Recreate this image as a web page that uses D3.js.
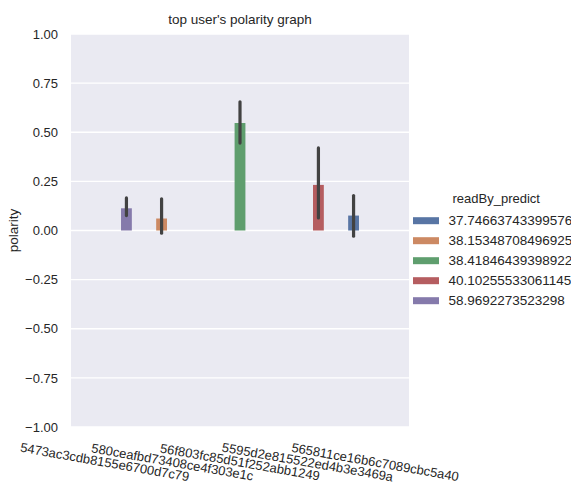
<!DOCTYPE html>
<html>
<head>
<meta charset="utf-8">
<script src="https://cdn.jsdelivr.net/npm/d3@7"></script>
<style>
  html, body { margin: 0; padding: 0; background: #fff; }
  svg { display: block; font-family: "Liberation Sans", Arial, sans-serif; }
</style>
</head>
<body>
<svg id="chart" width="571" height="498"></svg>
<script>
// Users (x categories) and readBy_predict groups (hue levels)
const users = [
  "5473ac3cdb8155e6700d7c79",
  "580ceafbd73408ce4f303e1c",
  "56f803fc85d51f252abb1249",
  "5595d2e815522ed4b3e3469a",
  "565811ce16b6c7089cbc5a40"
];
const hueLevels = [
  "37.74663743399576",
  "38.15348708496925",
  "38.41846439398922",
  "40.10255533061145",
  "58.9692273523298"
];
const hueColors = ["#5875a4", "#cc8963", "#5f9e6e", "#b55d60", "#857aab"];

// Mean polarity per bar with its confidence interval
const barUser  = ["5473ac3cdb8155e6700d7c79", "580ceafbd73408ce4f303e1c", "56f803fc85d51f252abb1249", "5595d2e815522ed4b3e3469a", "565811ce16b6c7089cbc5a40"];
const barHue   = ["58.9692273523298", "38.15348708496925", "38.41846439398922", "40.10255533061145", "37.74663743399576"];
const barMean  = [0.113, 0.061, 0.547, 0.232, 0.076];
const barCiLow = [0.076, -0.014, 0.445, 0.064, -0.029];
const barCiHigh= [0.166, 0.161, 0.655, 0.420, 0.178];

const yTicks = [-1.0, -0.75, -0.5, -0.25, 0.0, 0.25, 0.5, 0.75, 1.0];

const svg = d3.select("#chart");
const plot = { left: 71, right: 409, top: 34, bottom: 427 };

const x = d3.scaleBand().domain(users).range([plot.left, plot.right]).paddingInner(0).paddingOuter(0);
// hue slots occupy 80% of each category
const xHue = d3.scaleBand().domain(hueLevels)
  .range([x.bandwidth() * 0.1, x.bandwidth() * 0.9]);
const y = d3.scaleLinear().domain([-1, 1]).range([plot.bottom, plot.top]);

// background
svg.append("rect")
  .attr("x", plot.left).attr("y", plot.top)
  .attr("width", plot.right - plot.left).attr("height", plot.bottom - plot.top)
  .attr("fill", "#eaeaf2");

// horizontal grid
svg.append("g").selectAll("line").data(yTicks).join("line")
  .attr("x1", plot.left).attr("x2", plot.right)
  .attr("y1", d => y(d)).attr("y2", d => y(d))
  .attr("stroke", "#fff").attr("stroke-width", 1.3);

// y axis
const yAxis = svg.append("g")
  .attr("transform", `translate(${plot.left},0)`)
  .call(d3.axisLeft(y).tickValues(yTicks).tickFormat(d => d3.format(".2f")(d).replace("-", "\u2212")).tickSize(0).tickPadding(13));
yAxis.select(".domain").remove();
yAxis.selectAll("text").attr("font-size", 13).attr("fill", "#262626")
  .attr("font-family", "'Liberation Sans', Arial, sans-serif");

// x axis labels, rotated
svg.append("g").selectAll("text").data(users).join("text")
  .attr("transform", d => `translate(${x(d) + x.bandwidth() / 2},462) rotate(10)`)
  .attr("text-anchor", "middle")
  .attr("dy", "0.35em")
  .attr("font-size", 13)
  .attr("fill", "#262626")
  .text(d => d);

// bars
const bars = barUser.map((u, i) => ({ u, h: barHue[i], m: barMean[i], lo: barCiLow[i], hi: barCiHigh[i] }));
svg.append("g").selectAll("rect").data(bars).join("rect")
  .attr("x", d => x(d.u) + xHue(d.h))
  .attr("width", xHue.bandwidth())
  .attr("y", d => Math.min(y(d.m), y(0)))
  .attr("height", d => Math.abs(y(d.m) - y(0)))
  .attr("fill", d => hueColors[hueLevels.indexOf(d.h)]);

// error bars
svg.append("g").selectAll("line").data(bars).join("line")
  .attr("x1", d => x(d.u) + xHue(d.h) + xHue.bandwidth() / 2)
  .attr("x2", d => x(d.u) + xHue(d.h) + xHue.bandwidth() / 2)
  .attr("y1", d => y(d.lo)).attr("y2", d => y(d.hi))
  .attr("stroke", "#424242").attr("stroke-width", 3.2).attr("stroke-linecap", "round");

// title
svg.append("text")
  .attr("x", (plot.left + plot.right) / 2).attr("y", 24)
  .attr("text-anchor", "middle").attr("font-size", 13.5).attr("fill", "#262626")
  .text("top user's polarity graph");

// y label
svg.append("text")
  .attr("transform", `translate(18,${y(0)}) rotate(-90)`)
  .attr("text-anchor", "middle").attr("font-size", 13.5).attr("fill", "#262626")
  .text("polarity");

// legend
const legend = svg.append("g").attr("transform", "translate(413,0)");
legend.append("text").attr("x", 39.5).attr("y", 203)
  .attr("font-size", 13).attr("fill", "#262626").text("readBy_predict");
const rows = legend.selectAll("g.row").data(hueLevels).join("g")
  .attr("class", "row")
  .attr("transform", (d, i) => `translate(0,${220.7 + i * 20})`);
rows.append("rect").attr("x", 0).attr("y", -3.5).attr("width", 26).attr("height", 7)
  .attr("fill", (d, i) => hueColors[i]);
rows.append("text").attr("x", 35.5).attr("y", 0).attr("dy", "0.35em")
  .attr("font-size", 13.5).attr("fill", "#262626").text(d => d);
</script>
</body>
</html>
